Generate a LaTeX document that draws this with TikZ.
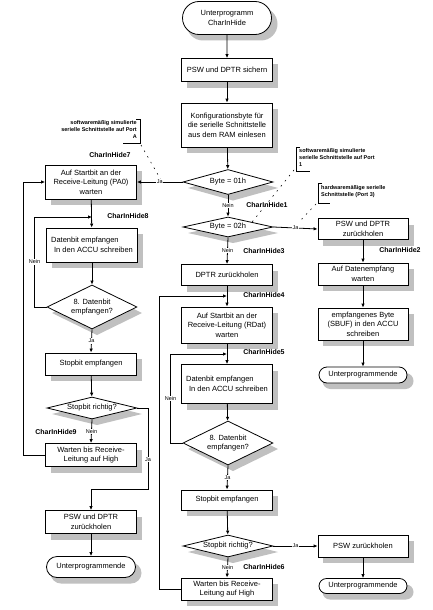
\documentclass[tikz,border=0pt]{standalone}
\usepackage{fontspec}
\setmainfont{Liberation Sans}
\usetikzlibrary{arrows.meta, shapes.geometric, shapes.misc}
\definecolor{shadowgray}{RGB}{192,192,192}

\begin{document}
\begin{tikzpicture}[x=1pt, y=-1pt,
  every node/.style={font=\fontsize{7.5}{9.5}\selectfont},
  box/.style={draw, line width=0.8pt, fill=white, minimum width=91pt, align=center, inner sep=1pt},
  term/.style={draw, line width=0.8pt, fill=white, rounded rectangle, minimum width=91pt, align=center, inner sep=1pt},
  dec/.style={draw, line width=0.8pt, fill=white, diamond, aspect=4, minimum width=90pt, inner sep=0pt, align=center},
  flow/.style={-{Latex[length=4pt,width=3.5pt]}, line width=0.8pt},
  lab/.style={font=\fontsize{5.5}{6}\selectfont, fill=white, inner sep=0.6pt},
  hidename/.style={font=\bfseries\fontsize{7}{8}\selectfont, inner sep=0pt},
  note/.style={font=\bfseries\fontsize{5.5}{7.2}\selectfont, inner sep=0pt},
  lead/.style={line width=0.6pt, dash pattern=on 1.5pt off 5pt},
  shadowbox/.style={fill=shadowgray, draw=none}
]
  \fill[white] (0,0) rectangle (433,610);
  \useasboundingbox (0,0) rectangle (433,610);

  % annotations (drawn first, the shapes cover their leaders)
  \node[note, align=right, anchor=north east] (noteA) at (137,120) {softwaremäßig simulierte\\serielle Schnittstelle auf Port\\A};
  \draw[line width=0.6pt] (136,119) -- (140,119) -- (140,143) -- (123,143);
  \coordinate (tipA) at (161,180);
  \draw[lead] (141,145) -- (tipA);
  \node[note, align=left, anchor=north west] (note1) at (299,148) {softwaremäßig simulierte\\serielle Schnittstelle auf Port\\1};
  \draw[line width=0.6pt] (300,147) -- (296,147) -- (296,171) -- (310,171);
  \coordinate (tip1) at (236,242);
  \draw[lead] (294,170) -- (tip1);
  \node[note, align=left, anchor=north west] (note3) at (321,185) {hardwaremäßige serielle\\Schnittstelle (Port 3)};
  \draw[line width=0.6pt] (322,183) -- (318,183) -- (318,203) -- (330,203);
  \coordinate (tip3) at (299,222);
  \draw[lead] (316,204) -- (tip3);

  % shadows, boxes: x, top, bottom
  \foreach \x/\ya/\yb in {227/58.5/81.5, 227/103/147, 227/264.5/285.5, 227/307/343, 227/364.5/403.5,
      227/490/510, 227/578/600, 363/535/557, 363/218.5/239.5, 363/263/285, 363/308/340,
      91/165/199, 92/228/262, 91/353/375, 91/443.5/466.5, 91/510.5/533.5}
    \fill[shadowbox] (\x-40.5,\ya+6) rectangle (\x+50.5,\yb+6);
  % shadows, diamonds: x, y, half height
  \foreach \x/\y/\hh in {228/182/12.5, 228/227/10, 228/443/22, 228/546/11, 92/307/22, 92/408/11}
    \fill[shadowbox] (\x+5,\y-\hh+6) -- (\x+50,\y+6) -- (\x+5,\y+\hh+6) -- (\x-40,\y+6) -- cycle;
  % shadows, terminals: x, y, half height
  \foreach \x/\y/\hh in {227/18/16.5, 363/586/7.5, 363/375/8, 91/567/10.5}
    \fill[shadowbox, rounded corners=\hh pt] (\x-40.5,\y-\hh+6) rectangle (\x+50.5,\y+\hh+6);

  % main column
  \node[term, minimum height=33pt] (start) at (227,18) {Unterprogramm\\CharInHide};
  \node[box, minimum height=23pt] (sichern) at (227,70) {PSW und DPTR sichern};
  \node[box, minimum height=44pt] (konfig) at (227,125) {Konfigurationsbyte für\\die serielle Schnittstelle\\aus dem RAM einlesen};
  \node[dec, minimum height=25pt] (d01) at (228,182) {Byte = 01h};
  \node[dec, minimum height=20pt] (d02) at (228,227) {Byte = 02h};
  \node[box, minimum height=21pt] (dptr) at (227,275) {DPTR zurückholen};
  \node[box, minimum height=36pt] (rdat) at (227,325) {Auf Startbit an der\\Receive-Leitung (RDat)\\warten};
  \node[box, minimum height=39pt, align=left] (datR) at (227,384) {Datenbit empfangen\\\hspace{3pt}In den ACCU schreiben};
  \node[dec, aspect=2, minimum height=44pt] (d8R) at (228,443) {8. Datenbit\\empfangen?};
  \node[box, minimum height=20pt] (stopR) at (227,500) {Stopbit empfangen};
  \node[dec, minimum height=22pt] (richtR) at (228,546) {Stopbit richtig?};
  \node[box, minimum height=22pt] (wartR) at (227,589) {Warten bis Receive-\\Leitung auf High};
  \node[box, minimum height=22pt, minimum width=90pt] (pswzR) at (363,546) {PSW zurückholen};
  \node[term, minimum height=15pt, minimum width=90pt] (endB) at (363,586) {Unterprogrammende};

  % right column
  \node[box, minimum height=21pt, minimum width=90pt] (pswR) at (363,229) {PSW und DPTR\\zurückholen};
  \node[box, minimum height=22pt, minimum width=90pt] (empf) at (363,274) {Auf Datenempfang\\warten};
  \node[box, minimum height=32pt, minimum width=90pt] (sbuf) at (363,324) {empfangenes Byte\\(SBUF) in den ACCU\\schreiben};
  \node[term, minimum height=16pt, minimum width=90pt] (endR) at (363,375) {Unterprogrammende};

  % left column
  \node[box, minimum height=34pt] (pa0) at (91,182) {Auf Startbit an der\\Receive-Leitung (PA0)\\warten};
  \node[box, minimum height=34pt, align=left] (datL) at (92,245) {Datenbit empfangen\\\hspace{3pt}In den ACCU schreiben};
  \node[dec, aspect=2, minimum height=44pt] (d8L) at (92,307) {8. Datenbit\\empfangen?};
  \node[box, minimum height=22pt] (stopL) at (91,364) {Stopbit empfangen};
  \node[dec, minimum height=22pt] (richtL) at (92,408) {Stopbit richtig?};
  \node[box, minimum height=23pt] (wartL) at (91,455) {Warten bis Receive-\\Leitung auf High};
  \node[box, minimum height=23pt] (pswL) at (91,522) {PSW und DPTR\\zurückholen};
  \node[term, minimum height=21pt] (endL) at (91,567) {Unterprogrammende};

  % connectors, main column
  \draw[flow] (start) -- (sichern);
  \draw[flow] (sichern) -- (konfig);
  \draw[flow] (konfig) -- (d01);
  \draw[flow] (d01.west) -- node[lab] {Ja} (pa0.east);
  \draw[flow] (d01.south) -- node[lab] {Nein} (d02.north);
  \draw[flow] (d02.east) -- node[lab] {Ja} (pswR.west);
  \draw[flow] (d02.south) -- node[lab] {Nein} (dptr.north);
  \draw[flow] (dptr) -- (rdat);
  \coordinate (j4) at (227,296);
  \draw[flow] (wartR.west) -- ++(-22,0) |- (j4);
  \draw[flow] (rdat) -- (datR);
  \coordinate (j5) at (227,354);
  \draw[flow] (d8R.west) -- ++(-12,0) |- node[lab, pos=0.25] {Nein} (j5);
  \draw[flow] (datR) -- (d8R);
  \draw[flow] (d8R.south) -- node[lab] {Ja} (stopR.north);
  \draw[flow] (stopR) -- (richtR);
  \draw[flow] (richtR.east) -- node[lab] {Ja} (pswzR.west);
  \draw[flow] (richtR.south) -- node[lab] {Nein} (wartR.north);
  \draw[flow] (pswzR) -- (endB);

  % connectors, right column
  \draw[flow] (pswR) -- (empf);
  \draw[flow] (empf) -- (sbuf);
  \draw[flow] (sbuf) -- (endR);

  % connectors, left column
  \draw[flow] (pa0) -- (datL);
  \coordinate (j8) at (92,217);
  \draw[flow] (d8L.west) -- ++(-12,0) |- node[lab, pos=0.25] {Nein} (j8);
  \draw[flow] (datL) -- (d8L);
  \draw[flow] (d8L.south) -- node[lab] {Ja} (stopL.north);
  \draw[flow] (stopL) -- (richtL);
  \draw[flow] (richtL.south) -- node[lab] {Nein} (wartL.north);
  \draw[flow] (wartL.west) -- ++(-22,0) |- (pa0.west);
  \draw[flow] (richtL.east) -| node[lab, pos=0.82] {Ja} (148,489) -| (pswL.north);
  \draw[flow] (pswL) -- (endL);

  % entry labels
  \node[hidename] (h1) at (267,205) {CharInHide1};
  \node[hidename] (h2) at (400,250) {CharInHide2};
  \node[hidename] (h3) at (264,251) {CharInHide3};
  \node[hidename] (h4) at (264,295) {CharInHide4};
  \node[hidename] (h5) at (264,352) {CharInHide5};
  \node[hidename] (h6) at (264,567) {CharInHide6};
  \node[hidename] (h7) at (110,155) {CharInHide7};
  \node[hidename] (h8) at (128,216) {CharInHide8};
  \node[hidename] (h9) at (56,432) {CharInHide9};
\end{tikzpicture}
\end{document}
